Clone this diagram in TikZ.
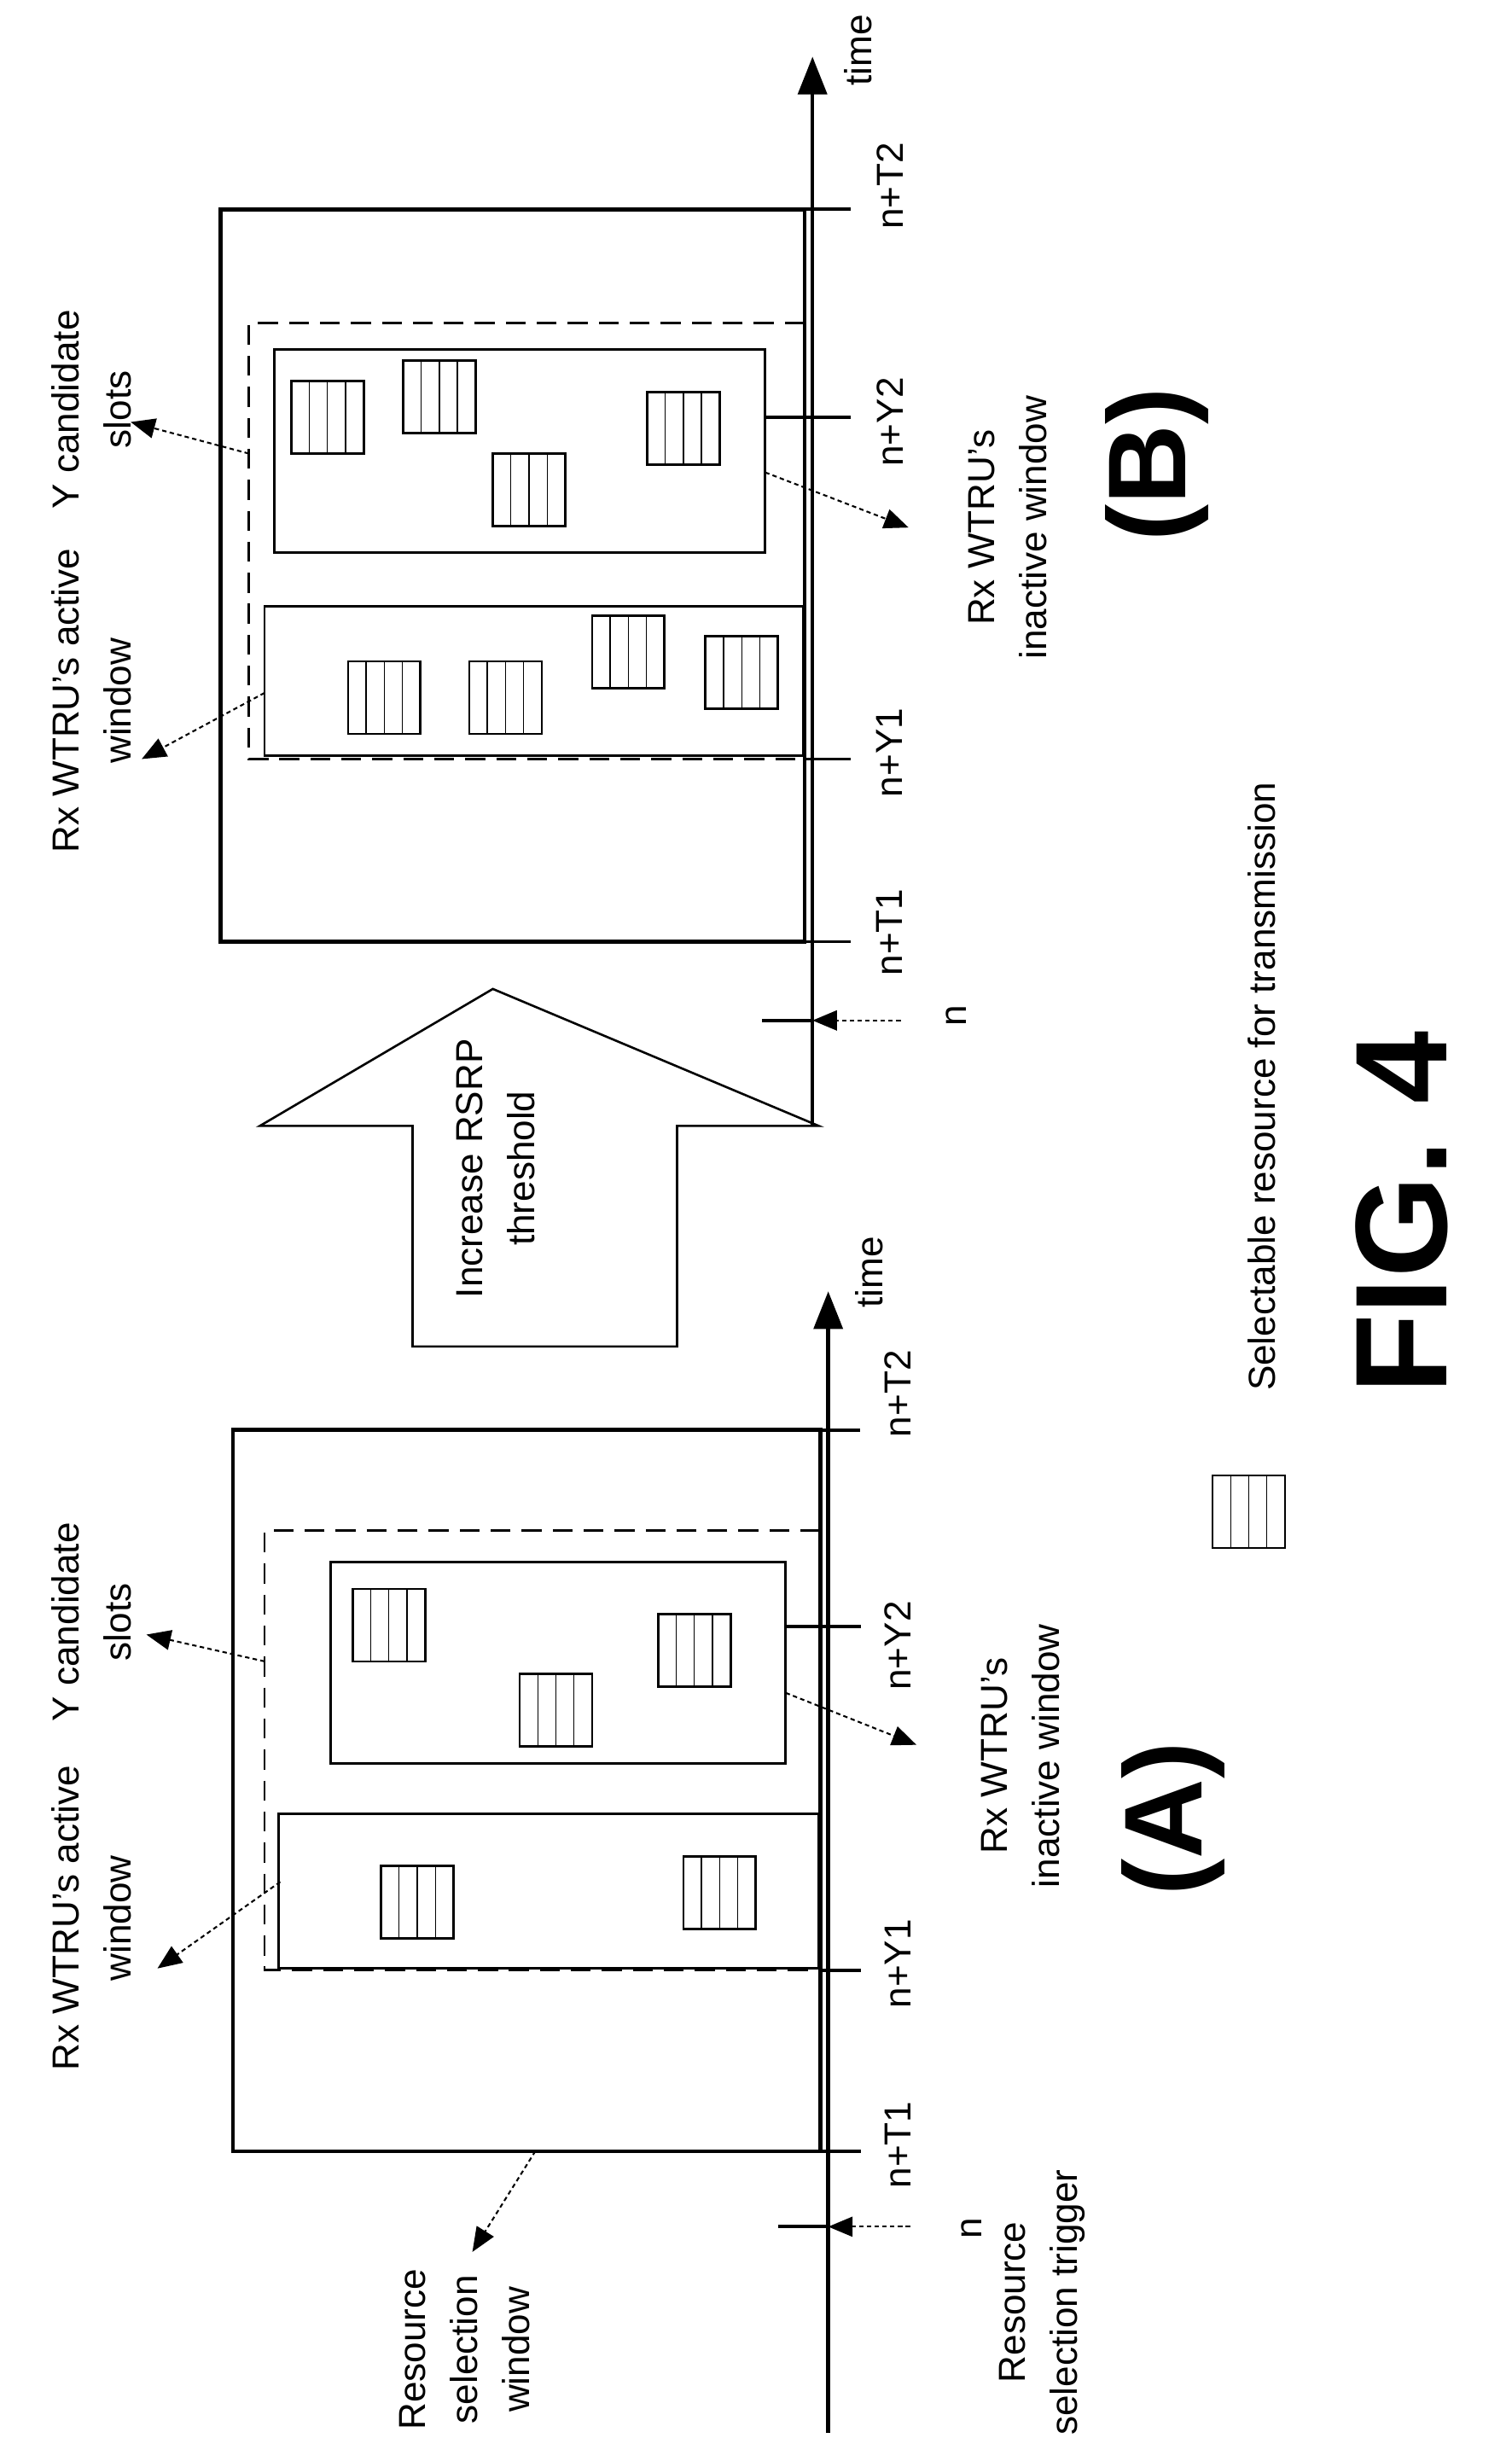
\documentclass[tikz,border=0pt]{standalone}
\usepackage{fontspec}
\setmainfont{Liberation Sans}
\usetikzlibrary{arrows.meta}
\tikzset{
  outerbox/.style={line width=3.5pt},
  inbox/.style={line width=2.2pt},
  dashbox/.style={line width=2.2pt, dash pattern=on 18pt off 10pt},
  axisline/.style={line width=3.5pt},
  tick/.style={line width=3pt},
  pointer/.style={line width=1.6pt, dash pattern=on 4pt off 3pt, -{Triangle[length=22pt,width=18pt]}},
  lbl/.style={rotate=90, font=\fontsize{34}{47}\selectfont, align=center, inner sep=0pt},
  big/.style={rotate=90, font=\fontsize{100}{110}\selectfont\bfseries, inner sep=0pt},
  resicon/.pic={\draw[line width=2pt] (0,0) rectangle (46,46);
    \foreach \i in {11.5,23,34.5} \draw[line width=1pt] (\i,0) -- (\i,46);}
}
\begin{document}
\begin{tikzpicture}[x=0.05cm,y=-0.05cm]
\useasboundingbox (0,0) rectangle (960,1552);
% ===== Panel A =====
\coordinate (aBot) at (526,1545); \coordinate (aTop) at (526,820);
\draw[axisline,-{Triangle[length=34pt,width=26pt]}] (aBot) -- (aTop);
\node[lbl] (atime) at (552,808) {time};
\draw[outerbox] (521,908) -- (148,908) -- (148,1366) -- (521,1366) -- cycle;
\draw[dashbox] (521,972) -- (168,972) -- (168,1251) -- (521,1251);
\draw[inbox] (210,992) rectangle (499,1120);
\draw[inbox] (177,1152) rectangle (520,1250);
\coordinate (aInact) at (499,1075);
\coordinate (aAct) at (178,1195);
\coordinate (aDash) at (168,1055);
\coordinate (aWin) at (340,1366);
% ticks
\draw[tick] (521,908) -- (546,908);
\draw[tick] (499,1033) -- (547,1033);
\draw[tick] (520,1251) -- (547,1251);
\draw[tick] (521,1366) -- (547,1366);
\draw[tick] (494,1414) -- (526,1414);
\coordinate (aN) at (526,1414);
\node[lbl] (aT2) at (570,885) {n+T2};
\node[lbl] (aY2) at (570,1045) {n+Y2};
\node[lbl] (aY1) at (570,1247) {n+Y1};
\node[lbl] (aT1) at (570,1362) {n+T1};
\node[lbl] (an) at (617,1415) {n};
\node[lbl] (atrig) at (662,1462) {Resource\\selection trigger};
\draw[pointer] (578,1414) -- (aN);
% resources A
\pic at (224,1009) {resicon}; \pic at (330,1063) {resicon}; \pic at (418,1025) {resicon};
\pic at (242,1185) {resicon}; \pic at (434,1179) {resicon};
% labels A
\node[lbl] (aActL) at (58,1218) {Rx WTRU's active\\window};
\draw[pointer] (aAct) -- (100,1250);
\node[lbl] (aYL) at (58,1030) {Y candidate\\slots};
\draw[pointer] (aDash) -- (93,1038);
\node[lbl] (aWinL) at (295,1492) {Resource\\selection\\window};
\draw[pointer] (aWin) -- (300,1430);
\node[lbl] (aInL) at (648,1115) {Rx WTRU's\\inactive window};
\draw[pointer] (aInact) -- (582,1108);
\node[big] (A) at (745,1155) {(A)};
% ===== Panel B =====
\coordinate (bBot) at (516,715); \coordinate (bTop) at (516,36);
\draw[axisline,-{Triangle[length=34pt,width=26pt]}] (bBot) -- (bTop);
\node[lbl] (btime) at (545,32) {time};
\draw[outerbox] (511,133) -- (140,133) -- (140,598) -- (511,598) -- cycle;
\draw[dashbox] (511,205) -- (158,205) -- (158,482) -- (511,482);
\draw[inbox] (174,222) rectangle (486,351);
\draw[inbox] (168,385) rectangle (510,480);
\draw[tick] (511,133) -- (540,133);
\draw[tick] (486,265) -- (540,265);
\draw[tick] (510,482) -- (540,482);
\draw[tick] (511,598) -- (540,598);
\draw[tick] (484,648) -- (516,648);
\coordinate (bN) at (516,648);
\node[lbl] (bT2) at (565,118) {n+T2};
\node[lbl] (bY2) at (565,268) {n+Y2};
\node[lbl] (bY1) at (565,478) {n+Y1};
\node[lbl] (bT1) at (565,592) {n+T1};
\node[lbl] (bn) at (607,645) {n};
\draw[pointer] (572,648) -- (bN);
\pic at (185,242) {resicon}; \pic at (256,229) {resicon}; \pic at (313,288) {resicon}; \pic at (411,249) {resicon};
\pic at (221,420) {resicon}; \pic at (298,420) {resicon}; \pic at (376,391) {resicon}; \pic at (448,404) {resicon};
\coordinate (bAct) at (168,440); \coordinate (bDash) at (158,288); \coordinate (bInact) at (486,300);
\node[lbl] (bActL) at (58,445) {Rx WTRU's active\\window};
\draw[pointer] (bAct) -- (90,482);
\node[lbl] (bYL) at (58,260) {Y candidate\\slots};
\draw[pointer] (bDash) -- (83,268);
\node[lbl] (bInL) at (640,335) {Rx WTRU's\\inactive window};
\draw[pointer] (bInact) -- (577,335);
\node[big] (B) at (735,295) {(B)};
% ===== Big arrow =====
\draw[line width=2pt] (262,855) -- (262,715) -- (165,715) -- (313,628) -- (520,715) -- (430,715) -- (430,855) -- cycle;
\node[lbl] (rsrp) at (315,742) {Increase RSRP\\threshold};
% ===== Legend =====
\pic at (770,937) {resicon};
\node[lbl,anchor=south] (leg) at (810,690) {Selectable resource for transmission};
\node[rotate=90, font=\fontsize{118}{130}\selectfont\bfseries, inner sep=0pt] (fig) at (890,770) {FIG. 4};
\end{tikzpicture}
\end{document}
